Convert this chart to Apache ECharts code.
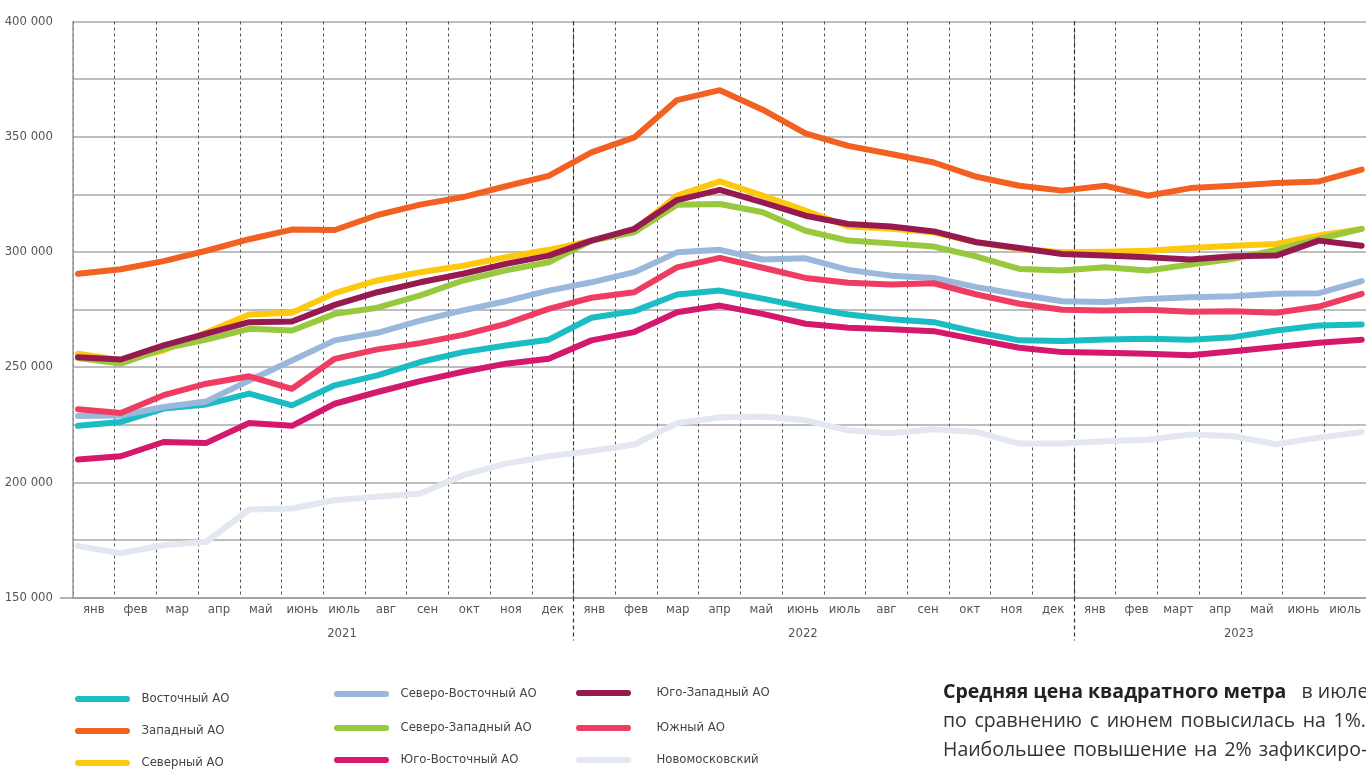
<!DOCTYPE html>
<html>
<head>
<meta charset="utf-8">
<script src="https://cdn.jsdelivr.net/npm/echarts@6/dist/echarts.min.js"></script>
<style>
html,body{margin:0;padding:0;background:#fff;}
#c{width:1366px;height:769px;}
</style>
</head>
<body>
<div id="c"></div>
<script>
const months = ['янв','фев','мар','апр','май','июнь','июль','авг','сен','окт','ноя','дек',
                'янв','фев','мар','апр','май','июнь','июль','авг','сен','окт','ноя','дек',
                'янв','фев','март','апр','май','июнь','июль'];
const yearLabels = ['2021','2022','2023'];
const yearLabelPos = [6.45, 17.5, 27.95];
const yearBreaks = [12, 24];
const yTicks = [150000, 200000, 250000, 300000, 350000, 400000];

const vostochny = [224500,226200,232000,233800,238500,233400,242100,246400,252200,256500,259400,261900,271400,274300,281500,283200,279700,276000,272800,270800,269500,265200,261600,261300,262000,262300,261900,263000,265900,268100,268500];
const zapadny = [290500,292500,296000,300500,305500,309700,309500,316000,320500,323800,328500,333000,343200,349700,365900,370200,361700,351400,346000,342500,338800,332600,328700,326600,328700,324400,327700,328700,329900,330600,335700];
const severny = [255800,253000,257200,265000,272800,273600,282100,287600,291200,294000,297700,300900,304900,309500,324400,330600,324400,317900,311000,310000,308500,304200,301300,299800,300100,300500,301700,302700,303400,307100,310000];
const severoVost = [228800,229000,232700,235100,244200,252900,261600,264900,270200,274600,278600,283200,286800,291200,299800,300900,296700,297200,292200,289700,288700,284700,281500,278600,278300,279600,280300,280800,281800,282100,287300];
const severoZap = [253900,251500,258000,261900,266600,265900,273100,275800,281100,287600,292000,295500,304900,308500,320500,320800,317200,309200,304900,303700,302300,298000,292600,291900,293300,291900,294500,297000,300900,305600,310000];
const yugoVost = [209900,211300,217500,217100,225700,224500,234100,239200,243900,248000,251500,253600,261600,265200,273800,276700,273100,268800,267100,266400,265600,261900,258400,256500,256200,255800,255100,256900,258700,260600,261900];
const yugoZap = [254300,253300,259400,264500,269500,269800,277000,282500,286800,290500,294800,298400,304900,310000,322500,326900,321500,315700,312100,311000,308900,304200,301700,299100,298400,297700,296700,298100,298400,304900,302700];
const yuzhny = [231700,230100,237800,242800,246000,240600,253600,257700,260400,264000,268800,275300,280100,282500,293300,297400,293100,288700,286600,285800,286400,281500,277500,274900,274600,274900,274000,274200,273600,276300,281800];
const novomosk = [172300,169200,172700,174200,188200,188600,192200,193700,195100,203100,208100,211300,213600,216400,225700,228100,228600,226900,222600,221300,223000,221800,216800,216800,217800,218500,220800,220000,216500,219400,221800];

const seriesDefs = [
  ['Восточный АО', vostochny, '#1bbcc3'],
  ['Западный АО', zapadny, '#f26122'],
  ['Северный АО', severny, '#fec80e'],
  ['Северо-Восточный АО', severoVost, '#9ab8dc'],
  ['Северо-Западный АО', severoZap, '#98c83d'],
  ['Юго-Восточный АО', yugoVost, '#d4186b'],
  ['Юго-Западный АО', yugoZap, '#961a4f'],
  ['Южный АО', yuzhny, '#ef3c63'],
  ['Новомосковский', novomosk, '#e3e7ef']
];

const condFont = '"Liberation Sans Narrow", "DejaVu Sans Condensed", "Roboto", sans-serif';
const textFont = '"Open Sans", sans-serif';
const capsule = 'path://M3,0 L52,0 A3,3 0 0 1 52,6 L3,6 A3,3 0 0 1 3,0 Z';

// legend placement: [name, left, icon centre y, text gap]
const legendPlace = [
  ['Восточный АО', 75, 699, 6],
  ['Западный АО', 75, 731, 6],
  ['Северный АО', 75, 763, 6],
  ['Северо-Восточный АО', 334, 694, 6],
  ['Северо-Западный АО', 334, 728, 6],
  ['Юго-Восточный АО', 334, 760, 6],
  ['Юго-Западный АО', 576, 693, 20],
  ['Южный АО', 576, 728, 20],
  ['Новомосковский', 576, 760, 20]
];

function legendItem(p) {
  return {
    orient: 'horizontal', left: p[1], top: p[2] - 8, padding: 0,
    data: [p[0]], icon: capsule,
    itemWidth: 56, itemHeight: 6,
    textStyle: {fontFamily: condFont, fontSize: 13, color: '#444', padding: [0, 0, 0, p[3]], lineHeight: 16},
    selectedMode: false
  };
}

const chart = echarts.init(document.getElementById('c'), null, {renderer: 'canvas'});
chart.setOption({
  animation: false,
  backgroundColor: '#fff',
  grid: [
    {left: 73, top: 21.5, width: 1295, bottom: 171.5, containLabel: false},
    {left: 78, top: 21.5, right: 4.3, bottom: 171.5, containLabel: false}
  ],
  xAxis: [
    {
      type: 'category', gridIndex: 0, data: months, boundaryGap: true,
      axisLine: {show: true, lineStyle: {color: '#9a9a9a', width: 1.5}},
      axisTick: {show: false},
      axisLabel: {interval: 0, margin: 6, color: '#555', fontFamily: condFont, fontSize: 13},
      splitLine: {show: true, interval: 0, lineStyle: {color: '#555', width: 1, type: [3, 3]}}
    },
    {
      type: 'value', gridIndex: 0, min: 0, max: 31, position: 'bottom',
      axisLine: {show: false},
      axisTick: {show: true, customValues: yearBreaks, length: 43, inside: false,
                 lineStyle: {color: '#333', width: 1.2, type: [4, 3]}},
      axisLabel: {show: true, customValues: yearLabelPos, margin: 30, color: '#555',
                  fontFamily: condFont, fontSize: 13,
                  formatter: function (v) {
                    const i = yearLabelPos.indexOf(v);
                    return i >= 0 ? yearLabels[i] : '';
                  }},
      splitLine: {show: true, lineStyle: {color: '#333', width: 1.2, type: [4, 3]}}
    },
    {
      type: 'category', gridIndex: 1, data: months, boundaryGap: false, show: false
    }
  ],
  yAxis: [
    {
      type: 'value', gridIndex: 0, min: 150000, max: 400000, interval: 25000,
      axisLine: {show: true, lineStyle: {color: '#9a9a9a', width: 1.5}},
      axisTick: {show: false},
      axisLabel: {margin: 20, color: '#555', fontFamily: condFont, fontSize: 13,
        formatter: function (v) {
          if (yTicks.indexOf(v) < 0) return '';
          const s = String(v);
          return s.slice(0, s.length - 3) + ' ' + s.slice(-3);
        }},
      splitLine: {show: true, lineStyle: {color: '#a8a8a8', width: 1.5}}
    },
    {
      type: 'value', gridIndex: 0, min: 150000, max: 400000, position: 'left',
      axisLine: {show: false}, axisLabel: {show: false}, splitLine: {show: false},
      axisTick: {show: true, customValues: [150000], length: 13, lineStyle: {color: '#9a9a9a', width: 1.5}}
    },
    {
      type: 'value', gridIndex: 1, min: 150000, max: 400000, show: false, splitLine: {show: false}
    }
  ],
  legend: legendPlace.map(legendItem),
  graphic: [{
    type: 'text', left: 943, top: 678,
    style: {
      text: '{b|Средняя цена квадратного метра}   в июле\n' +
            'по {s| }сравнению {s| }с {s| }июнем {s| }повысилась {s| }на {s| }1%.\n' +
            'Наибольшее {t| }повышение {t| }на {t| }2% {t| }зафиксиро-',
      fontFamily: textFont, fontSize: 19.5, lineHeight: 29, fill: '#333',
      rich: {
        b: {fontFamily: textFont, fontSize: 19.5, fontWeight: 'bold', lineHeight: 29, fill: '#222'},
        s: {fontFamily: textFont, fontSize: 10, lineHeight: 29},
        t: {fontFamily: textFont, fontSize: 8, lineHeight: 29}
      }
    }
  }],
  series: seriesDefs.map(function (d) {
    return {
      name: d[0], type: 'line', xAxisIndex: 2, yAxisIndex: 2, data: d[1],
      symbol: 'none', smooth: false, color: d[2],
      lineStyle: {width: 6, color: d[2], cap: 'round', join: 'round'}
    };
  })
});
</script>
</body>
</html>
